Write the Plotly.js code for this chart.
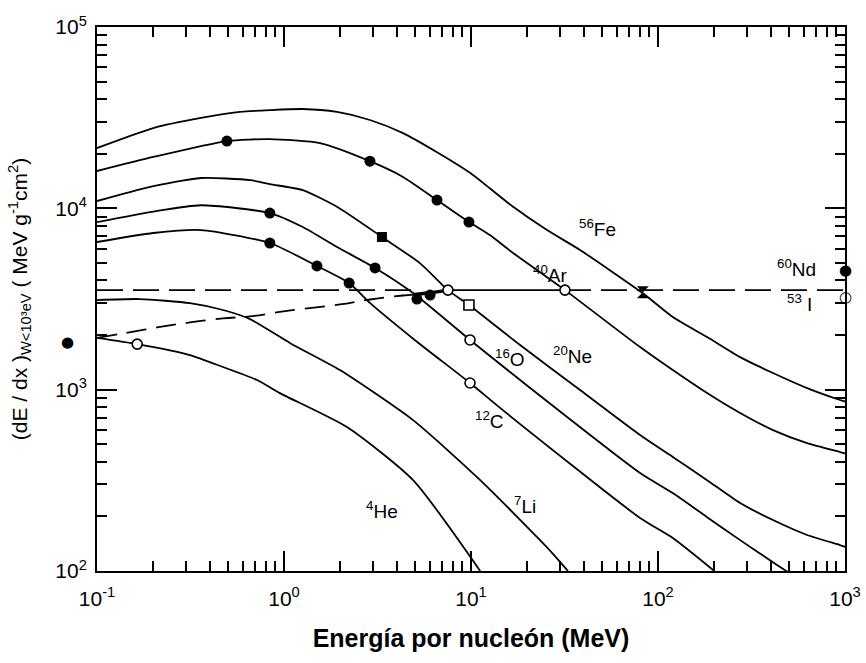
<!DOCTYPE html>
<html><head><meta charset="utf-8">
<script src="https://cdn.plot.ly/plotly-3.0.1.min.js"></script>
<style>html,body{margin:0;padding:0;background:#fff}#chart{width:866px;height:663px}</style>
</head><body><div id="chart"></div>
<script>
// Energy per nucleon (MeV) and restricted dE/dx (MeV g^-1 cm^2)
const feE = [0.1, 0.2, 0.36, 0.58, 0.84, 1.26, 1.92, 2.88, 4.33, 6.58, 9.88, 12.6, 16.8, 25.5, 38.3, 83, 120, 183, 275, 412, 627, 940, 1000];
const feS = [21500, 27700, 31500, 34000, 34800, 35300, 34000, 30700, 26000, 20400, 15700, 12900, 10200, 7590, 5890, 3400, 2515, 1950, 1512, 1235, 1020, 877, 860];

const arE = [0.1, 0.2, 0.495, 0.84, 1.56, 2.88, 4.33, 6.58, 9.75, 12.6, 16.8, 31.8, 80.2, 120, 183, 275, 412, 627, 940, 1000];
const arS = [16060, 19200, 23500, 24100, 22900, 18200, 14900, 11100, 8400, 7120, 5670, 3540, 1718, 1283, 958, 743, 598, 507, 453, 445];

const neE = [0.1, 0.19, 0.36, 0.66, 0.84, 1.26, 1.92, 3.34, 5.33, 7.53, 9.75, 18.3, 38.3, 80.2, 120, 183, 275, 412, 627, 940, 1000];
const neS = [10970, 13100, 14700, 14300, 13600, 12600, 10200, 6950, 4990, 3540, 2930, 1762, 995, 562, 425, 317, 237, 191, 158, 139, 136];

const oE = [0.1, 0.2, 0.36, 0.84, 1.26, 1.92, 3.07, 4.9, 9.88, 18.3, 80.2, 120, 183, 275, 433, 500];
const oS = [8400, 9600, 10400, 9420, 7890, 6120, 4690, 3410, 1880, 1130, 347, 269, 198, 148, 108, 98];

const cE = [0.1, 0.2, 0.36, 0.84, 1.5, 2.23, 2.88, 5.0, 9.88, 14.8, 80.2, 120, 200];
const cS = [6520, 7310, 7590, 6440, 4810, 3870, 3010, 1880, 1088, 771, 196, 152, 100];

const liE = [0.1, 0.17, 0.314, 0.472, 0.658, 1.08, 1.99, 4.9, 11.2, 25.5, 33];
const liS = [3120, 3160, 3000, 2750, 2450, 1805, 1282, 679, 317, 135, 100];

const heE = [0.1, 0.164, 0.314, 0.472, 0.718, 0.95, 2.17, 4.9, 11.2];
const heS = [1930, 1783, 1552, 1333, 1130, 957, 622, 317, 100];

// dashed lower threshold curve and its solid continuation
const lowE = [0.1, 0.138, 0.209, 0.314, 0.472, 0.658, 1.08, 1.99, 2.88, 4.33, 5.0];
const lowS = [1930, 2042, 2203, 2348, 2472, 2535, 2735, 2950, 3142, 3306, 3346];
const joinE = [5.0, 6.0, 7.5];
const joinS = [3346, 3420, 3540];
// flat threshold level
const flatLevel = 3540;
const flatLeftE = [0.1, 5.0];
const flatMidE = [7.5, 31.8];
const flatRightE = [31.8, 1000];

// measured points
const dotE = [0.495, 2.88, 6.58, 9.75, 0.84, 3.07, 0.84, 1.5, 2.23, 5.14, 6.04];
const dotS = [23500, 18200, 11100, 8400, 9420, 4690, 6440, 4810, 3870, 3160, 3325];
const sqE = [3.34];
const sqS = [6950];
const openE = [7.53, 9.88, 9.88, 31.8, 0.164];
const openS = [3540, 1880, 1088, 3540, 1783];
const openSqE = [9.75];
const openSqS = [2930];
const feMarkE = [83];
const feMarkS = [3450];
// points sitting on / beyond the frame (drawn as glyphs at paper x, data y)
const edgeGlyph = ['●', '●', '○'];
const edgePaperX = [-0.0388, 1.0, 1.0];
const edgeS = [1833, 4570, 3240];

// labels
const labelText = ['<sup>56</sup>Fe', '<sup>40</sup>Ar', '<sup>20</sup>Ne', '<sup>16</sup>O', '<sup>12</sup>C', '<sup>7</sup>Li', '<sup>4</sup>He', '<sup>60</sup>Nd', '<sup>53</sup> I'];
const labelE = [47.2, 26.4, 34.7, 16.2, 12.6, 19.5, 3.34, 553, 574];
const labelS = [7780, 4340, 1553, 1494, 679, 231, 217, 4690, 3010];

const xTickVals = [0.1, 1, 10, 100, 1000];
const xTickText = ['10<sup>-1</sup>', '10<sup>0</sup>', '10<sup>1</sup>', '10<sup>2</sup>', '10<sup>3</sup>'];
const yTickVals = [100, 1000, 10000, 100000];
const yTickText = ['10<sup>2</sup>', '10<sup>3</sup>', '10<sup>4</sup>', '10<sup>5</sup>'];
const xInnerMajor = [1, 10, 100];
const yInnerMajor = [1000, 10000];

function minorVals(lo, hi) {
  const v = [];
  for (let d = lo; d < hi; d++) for (let k = 2; k <= 9; k++) v.push(k * Math.pow(10, d));
  return v;
}

const FONT = 'Liberation Sans, Arial, sans-serif';
const curveLine = {color: '#000', width: 1.8, shape: 'spline', smoothing: 0.6};
function curve(x, y) { return {x, y, mode: 'lines', line: curveLine, hoverinfo: 'skip', showlegend: false}; }

const traces = [
  curve(feE, feS), curve(arE, arS), curve(neE, neS), curve(oE, oS), curve(cE, cS), curve(liE, liS), curve(heE, heS),
  {x: lowE, y: lowS, mode: 'lines', line: {color: '#000', width: 1.8, dash: '20px,10px', shape: 'spline'}, showlegend: false},
  {x: joinE, y: joinS, mode: 'lines', line: {color: '#000', width: 3.5, shape: 'spline'}, showlegend: false},
  {x: flatLeftE, y: flatLeftE.map(() => flatLevel), mode: 'lines', line: {color: '#000', width: 1.9, dash: '26px,10px'}, showlegend: false},
  {x: flatMidE, y: flatMidE.map(() => flatLevel), mode: 'lines', line: {color: '#000', width: 1.9}, showlegend: false},
  {x: flatRightE, y: flatRightE.map(() => flatLevel), mode: 'lines', line: {color: '#000', width: 1.9, dash: '26px,10px'}, showlegend: false},
  {x: dotE, y: dotS, mode: 'markers', marker: {symbol: 'circle', size: 11, color: '#000'}, showlegend: false},
  {x: sqE, y: sqS, mode: 'markers', marker: {symbol: 'square', size: 10, color: '#000'}, showlegend: false},
  {x: openE, y: openS, mode: 'markers', marker: {symbol: 'circle', size: 10, color: '#fff', line: {width: 1.6, color: '#000'}}, showlegend: false},
  {x: openSqE, y: openSqS, mode: 'markers', marker: {symbol: 'square', size: 10, color: '#fff', line: {width: 1.6, color: '#000'}}, showlegend: false},
  {x: feMarkE, y: feMarkS, mode: 'markers', marker: {symbol: 'hourglass', size: 12, color: '#000'}, showlegend: false}
];

// Tick strips: thin subplots along each frame edge whose grid lines act as the inside ticks.
const PLOT_H = 663 - 27 - 92, PLOT_W = 866 - 97 - 21;
const layout = {
  width: 866, height: 663,
  margin: {l: 97, r: 21, t: 27, b: 92},
  paper_bgcolor: '#fff', plot_bgcolor: 'rgba(0,0,0,0)',
  xaxis: {
    type: 'log', range: [-1, 3], tickmode: 'array', tickvals: xTickVals, ticktext: xTickText,
    showgrid: false, showline: true, linecolor: '#000', linewidth: 2, mirror: 'ticks',
    ticks: 'inside', ticklen: 20, tickwidth: 2, tickcolor: '#000',
    tickfont: {family: FONT, size: 21, color: '#000'}, ticklabelstandoff: 8,
    title: {text: 'Energía por nucleón (MeV)', standoff: 20, font: {family: FONT, size: 25, color: '#000', weight: 'bold'}}
  },
  yaxis: {
    type: 'log', range: [2, 5], tickmode: 'array', tickvals: yTickVals, ticktext: yTickText,
    showgrid: false, showline: true, linecolor: '#000', linewidth: 2, mirror: 'ticks',
    ticks: 'inside', ticklen: 20, tickwidth: 2, tickcolor: '#000',
    tickfont: {family: FONT, size: 21, color: '#000'}, ticklabelstandoff: 4,
    title: {text: '(dE / dx )<sub>W&lt;10³eV</sub> ( MeV g<sup>-1</sup>cm<sup>2</sup>)', standoff: 22, font: {family: FONT, size: 21, color: '#000'}}
  },
  showlegend: false
};

// strip definitions: [axis number, orientation, tick values, strip start fraction, strip end fraction]
const strips = [
  [3, 'x', xInnerMajor, 0, 20 / PLOT_H],
  [4, 'x', xInnerMajor, 1 - 20 / PLOT_H, 1],
  [5, 'x', minorVals(-1, 3), 0, 10 / PLOT_H],
  [6, 'x', minorVals(-1, 3), 1 - 10 / PLOT_H, 1],
  [7, 'y', yInnerMajor, 0, 20 / PLOT_W],
  [8, 'y', yInnerMajor, 1 - 20 / PLOT_W, 1],
  [9, 'y', minorVals(2, 5), 0, 10 / PLOT_W],
  [10, 'y', minorVals(2, 5), 1 - 10 / PLOT_W, 1]
];
strips.forEach(([n, o, vals, d0, d1]) => {
  const tickAxis = {
    type: 'log', range: o === 'x' ? [-1, 3] : [2, 5], tickmode: 'array', tickvals: vals,
    showgrid: true, gridcolor: '#000', gridwidth: 2, showticklabels: false, ticks: '', showline: false,
    anchor: (o === 'x' ? 'y' : 'x') + n
  };
  const stripAxis = {visible: false, range: [0, 1], domain: [d0, d1], anchor: o + n};
  if (o === 'x') { layout['xaxis' + n] = tickAxis; layout['yaxis' + n] = stripAxis; }
  else { layout['yaxis' + n] = tickAxis; layout['xaxis' + n] = stripAxis; }
  traces.push({x: o === 'x' ? [1] : [0.5], y: o === 'x' ? [0.5] : [1000], xaxis: 'x' + n, yaxis: 'y' + n,
    mode: 'markers', marker: {opacity: 0}, hoverinfo: 'skip', showlegend: false});
});

const annotations = labelText.map((t, i) => ({
  x: Math.log10(labelE[i]), y: Math.log10(labelS[i]), xref: 'x', yref: 'y',
  text: t, showarrow: false, font: {family: FONT, size: 19, color: '#000'}
}));
edgeGlyph.forEach((g, i) => annotations.push({
  x: edgePaperX[i], y: Math.log10(edgeS[i]), xref: 'paper', yref: 'y', text: g, showarrow: false,
  xanchor: 'center', yanchor: 'middle', font: {family: 'DejaVu Sans', size: 15, color: '#000'}
}));
layout.annotations = annotations;

Plotly.newPlot('chart', traces, layout, {displayModeBar: false});
</script></body></html>
